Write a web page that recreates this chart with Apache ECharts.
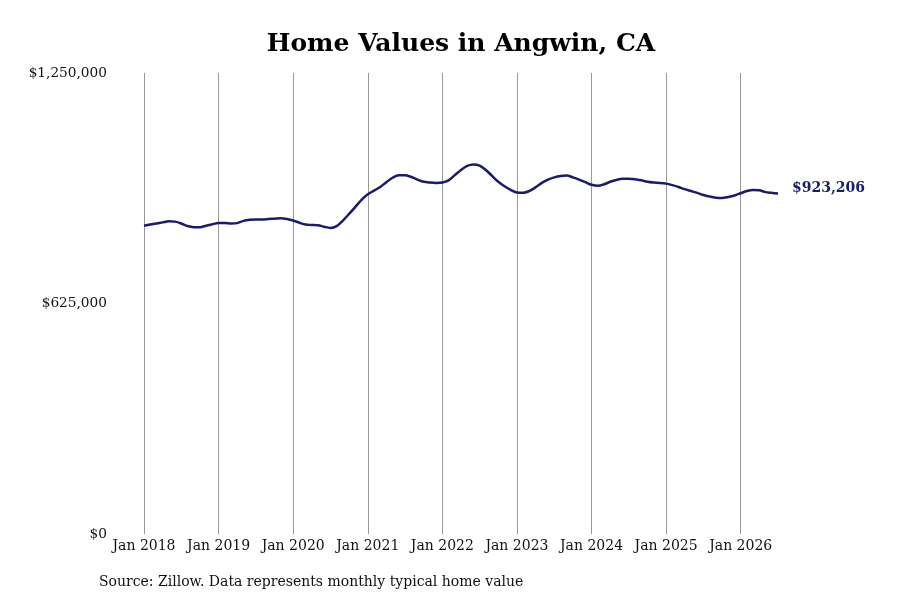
<!DOCTYPE html>
<html>
<head>
<meta charset="utf-8">
<title>Home Values in Angwin, CA</title>
<script src="https://cdn.jsdelivr.net/npm/echarts@6/dist/echarts.min.js"></script>
<style>
  html, body { margin: 0; padding: 0; background: #fff; }
  #main { width: 900px; height: 600px; }
</style>
</head>
<body>
<div id="main"></div>
<script>
// monthly typical home value, Jan 2018 .. Jul 2026
var startYear = 2018;
var values = [
  836000, 839000, 842000, 845000, 848000, 847000, 842000, 835000, 832000, 832000, 836000, 840000,
  843000, 843000, 842000, 843000, 849000, 852000, 853000, 853000, 854000, 855000, 856000, 854000,
  850000, 844000, 839000, 838000, 837000, 833000, 830000, 835000, 850000, 868000, 887000, 906000,
  921000, 931000, 941000, 954000, 966000, 973000, 973000, 968000, 961000, 955000, 953000, 952000,
  953000, 959000, 973000, 987000, 998000, 1002000, 999000, 987000, 971000, 955000, 943000, 933000,
  926000, 925000, 930000, 940000, 952000, 961000, 967000, 971000, 972000, 967000, 961000, 954000,
  947000, 944000, 948000, 955000, 960000, 963000, 963000, 962000, 959000, 955000, 953000, 952000,
  950000, 946000, 941000, 935000, 930000, 925000, 919000, 915000, 912000, 911000, 914000, 918000,
  924000, 930000, 933000, 932000, 927000, 925000, 923206
];
var yTicks = [0, 625000, 1250000];
var monthNames = ['Jan', 'Feb', 'Mar', 'Apr', 'May', 'Jun', 'Jul', 'Aug', 'Sep', 'Oct', 'Nov', 'Dec'];

var categories = values.map(function (v, i) {
  return monthNames[i % 12] + ' ' + (startYear + Math.floor(i / 12));
});

function money(v) {
  return '$' + Math.round(v).toLocaleString('en-US');
}

var serif = '"DejaVu Serif", serif';
var navy = '#1b1a6b';

var chart = echarts.init(document.getElementById('main'));
chart.setOption({
  backgroundColor: '#fff',
  animation: false,
  title: {
    text: 'Home Values in Angwin, CA',
    left: 456,
    textAlign: 'center',
    top: 27,
    textStyle: { fontFamily: serif, fontSize: 25, fontWeight: 'bold', color: '#000' }
  },
  grid: { left: 144, right: 122, top: 73, bottom: 66 },
  xAxis: {
    type: 'category',
    data: categories,
    boundaryGap: false,
    axisLine: { show: false },
    axisTick: { show: false },
    axisLabel: {
      interval: function (i) { return i % 12 === 0; },
      margin: 5,
      fontFamily: serif,
      fontSize: 14,
      color: '#111'
    },
    splitLine: {
      show: true,
      interval: function (i) { return i % 12 === 0; },
      lineStyle: { color: '#999', width: 1 }
    }
  },
  yAxis: {
    type: 'value',
    min: yTicks[0],
    max: yTicks[yTicks.length - 1],
    interval: yTicks[1] - yTicks[0],
    axisLine: { show: false },
    axisTick: { show: false },
    splitLine: { show: false },
    axisLabel: {
      formatter: money,
      margin: 37,
      fontFamily: serif,
      fontSize: 13.7,
      color: '#111'
    }
  },
  series: [{
    type: 'line',
    data: values,
    smooth: 0.3,
    symbol: 'none',
    lineStyle: { color: navy, width: 2.5 },
    endLabel: {
      show: true,
      formatter: function (p) { return money(p.value); },
      distance: 14,
      offset: [0, -5],
      fontFamily: serif,
      fontSize: 14,
      fontWeight: 'bold',
      color: navy
    }
  }],
  graphic: [{
    type: 'text',
    left: 99,
    top: 575,
    style: {
      text: 'Source: Zillow. Data represents monthly typical home value',
      fontFamily: serif,
      fontSize: 14,
      fill: '#111'
    }
  }]
});
</script>
</body>
</html>
